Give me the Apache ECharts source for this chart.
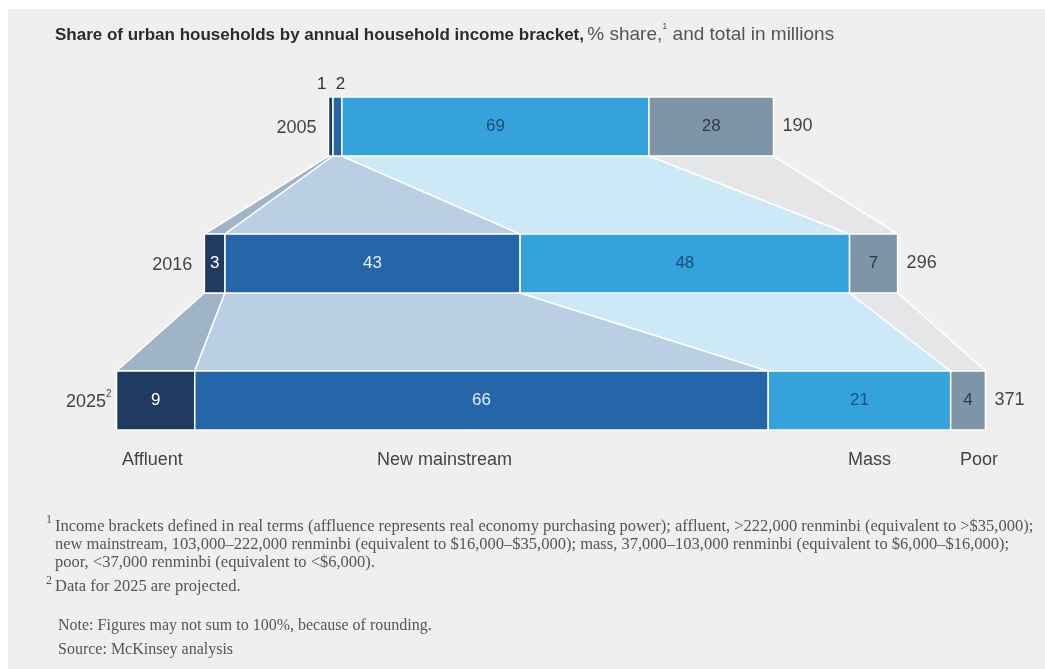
<!DOCTYPE html>
<html>
<head>
<meta charset="utf-8">
<script src="https://cdn.jsdelivr.net/npm/echarts@6/dist/echarts.min.js"></script>
<style>
  html, body { margin: 0; padding: 0; background: #fff; }
  #chart { width: 1045px; height: 669px; }
</style>
</head>
<body>
<div id="chart"></div>
<script>
// data: % share per bracket, total in millions
const years = ['2005', '2016', '2025'];
const yearNotes = ['', '', '2'];
const totals = [190, 296, 371];
const brackets = ['Affluent', 'New mainstream', 'Mass', 'Poor'];
const affluent = [1, 3, 9];
const newMainstream = [2, 43, 66];
const mass = [69, 48, 21];
const poor = [28, 7, 4];

const shares = [affluent, newMainstream, mass, poor];
const barColors = ['#1f3b60', '#2566a9', '#34a3dc', '#7e95a7'];
const linkColors = ['#9fb4c7', '#bacfe3', '#cde8f6', '#e4e6e8'];
const labelColors = ['#ffffff', '#e6eef7', '#1d4d7c', '#2f3b45'];
const BAR_H = 59;
const FONT = '"Liberation Sans", Arial, sans-serif';
const SERIF = '"Liberation Serif", "DejaVu Serif", serif';

// segment extents (millions), each bar centred on 0 and normalised to its total
const segs = years.map((y, r) => {
  const sum = shares.reduce((a, s) => a + s[r], 0);
  let x = -totals[r] / 2;
  return shares.map((s, k) => {
    const w = s[r] / sum * totals[r];
    const seg = { x0: x, x1: x + w, share: s[r] };
    x += w;
    return seg;
  });
});

const barData = [];
years.forEach((y, r) => segs[r].forEach((s, k) => barData.push([r, s.x0, s.x1, k, s.share])));

const linkData = [];
for (let r = 0; r < years.length - 1; r++) {
  segs[r].forEach((s, k) => {
    const n = segs[r + 1][k];
    linkData.push([r, s.x0, s.x1, n.x0, n.x1, k]);
  });
}

const rowData = years.map((y, r) => [r, -totals[r] / 2, totals[r] / 2, totals[r]]);

const chart = echarts.init(document.getElementById('chart'));

chart.setOption({
  animation: false,
  backgroundColor: '#ffffff',
  grid: { left: 82.6, right: 25.6, top: 97, bottom: 298 },
  xAxis: { type: 'value', min: -200, max: 200, show: false },
  yAxis: { type: 'value', min: 0, max: 2, inverse: true, show: false },
  graphic: [
    { type: 'rect', z: -10, shape: { x: 8, y: 9, width: 1037, height: 660 }, style: { fill: '#efefef' }, silent: true },
    {
      type: 'text', left: 55, top: 22,
      style: {
        text: '{b|Share of urban households by annual household income bracket,} {n|% share,}{s|1}{n| and total in millions}',
        rich: {
          b: { fontFamily: FONT, fontSize: 17, fontWeight: 'bold', fill: '#2b2b2b', lineHeight: 22, verticalAlign: 'bottom' },
          n: { fontFamily: FONT, fontSize: 19, fill: '#555555', lineHeight: 22, verticalAlign: 'bottom' },
          s: { fontFamily: FONT, fontSize: 9, fill: '#555555', lineHeight: 20, verticalAlign: 'top' }
        }
      }
    },
    // bracket names under the 2025 bar
    { type: 'text', left: 122, top: 451, style: { text: brackets[0], font: '18px ' + FONT, fill: '#444' } },
    { type: 'text', left: 377, top: 451, style: { text: brackets[1], font: '18px ' + FONT, fill: '#444' } },
    { type: 'text', left: 848, top: 451, style: { text: brackets[2], font: '18px ' + FONT, fill: '#444' } },
    { type: 'text', left: 960, top: 451, style: { text: brackets[3], font: '18px ' + FONT, fill: '#444' } },
    // footnotes
    { type: 'text', left: 46, top: 514, style: { text: '1', font: '12px ' + SERIF, fill: '#555' } },
    {
      type: 'text', left: 55, top: 518,
      style: {
        text: 'Income brackets defined in real terms (affluence represents real economy purchasing power); affluent, >222,000 renminbi (equivalent to >$35,000);\n' +
              'new mainstream, 103,000\u2013222,000 renminbi (equivalent to $16,000\u2013$35,000); mass, 37,000\u2013103,000 renminbi (equivalent to $6,000\u2013$16,000);\n' +
              'poor, <37,000 renminbi (equivalent to <$6,000).',
        font: '16.5px ' + SERIF, fill: '#555', lineHeight: 18
      }
    },
    { type: 'text', left: 46, top: 575, style: { text: '2', font: '12px ' + SERIF, fill: '#555' } },
    { type: 'text', left: 55, top: 578, style: { text: 'Data for 2025 are projected.', font: '16.5px ' + SERIF, fill: '#555' } },
    { type: 'text', left: 58, top: 618, style: { text: 'Note: Figures may not sum to 100%, because of rounding.', font: '16px ' + SERIF, fill: '#555' } },
    { type: 'text', left: 58, top: 642, style: { text: 'Source: McKinsey analysis', font: '16px ' + SERIF, fill: '#555' } }
  ],
  series: [
    {
      type: 'custom',
      name: 'links',
      silent: true,
      data: linkData,
      encode: { x: [1, 2, 3, 4], y: 0 },
      renderItem: (params, api) => {
        const r = api.value(0);
        const a0 = api.coord([api.value(1), r]);
        const a1 = api.coord([api.value(2), r]);
        const b0 = api.coord([api.value(3), r + 1]);
        const b1 = api.coord([api.value(4), r + 1]);
        const k = api.value(5);
        return {
          type: 'polygon',
          shape: { points: [[a0[0], a0[1] + BAR_H], [a1[0], a1[1] + BAR_H], [b1[0], b1[1]], [b0[0], b0[1]]] },
          style: { fill: linkColors[k], stroke: '#ffffff', lineWidth: 1.5 }
        };
      }
    },
    {
      type: 'custom',
      name: 'bars',
      silent: true,
      data: barData,
      encode: { x: [1, 2], y: 0 },
      z: 3,
      renderItem: (params, api) => {
        const r = api.value(0);
        const k = api.value(3);
        const p0 = api.coord([api.value(1), r]);
        const p1 = api.coord([api.value(2), r]);
        const w = p1[0] - p0[0];
        const cx = (p0[0] + p1[0]) / 2;
        const narrow = w < 14;
        return {
          type: 'group',
          children: [
            {
              type: 'rect',
              shape: { x: p0[0], y: p0[1], width: w, height: BAR_H },
              style: { fill: barColors[k], stroke: '#ffffff', lineWidth: 1.5 }
            },
            {
              type: 'text',
              style: {
                text: String(api.value(4)),
                x: narrow ? cx + (k === 0 ? -9 : 3) : cx,
                y: narrow ? p0[1] - 13 : p0[1] + BAR_H / 2,
                align: 'center', verticalAlign: 'middle',
                font: '17px ' + FONT,
                fill: narrow ? '#333' : labelColors[k]
              }
            }
          ]
        };
      }
    },
    {
      type: 'custom',
      name: 'rows',
      silent: true,
      data: rowData,
      encode: { x: [1, 2], y: 0 },
      z: 4,
      renderItem: (params, api) => {
        const r = api.value(0);
        const p0 = api.coord([api.value(1), r]);
        const p1 = api.coord([api.value(2), r]);
        const note = yearNotes[r];
        return {
          type: 'group',
          children: [
            {
              type: 'text',
              style: {
                text: '{y|' + years[r] + '}' + (note ? '{s|' + note + '}' : ''),
                x: p0[0] - (note ? 5 : 12), y: p0[1] + BAR_H / 2,
                align: 'right', verticalAlign: 'middle',
                rich: {
                  y: { font: '18px ' + FONT, fill: '#444', lineHeight: 22, verticalAlign: 'bottom' },
                  s: { font: '10px ' + FONT, fill: '#444', lineHeight: 22, verticalAlign: 'top' }
                }
              }
            },
            {
              type: 'text',
              style: {
                text: String(api.value(3)),
                x: p1[0] + 9, y: p1[1] + BAR_H / 2,
                align: 'left', verticalAlign: 'middle',
                font: '18px ' + FONT, fill: '#444'
              }
            }
          ]
        };
      }
    }
  ]
});
</script>
</body>
</html>
